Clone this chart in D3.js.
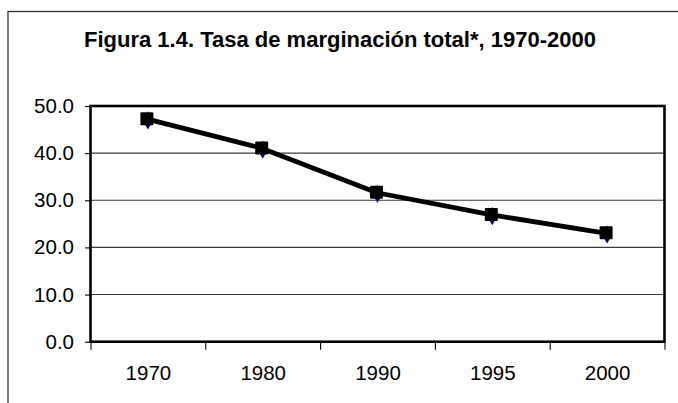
<!DOCTYPE html>
<html>
<head>
<meta charset="utf-8">
<script src="https://cdn.jsdelivr.net/npm/d3@7"></script>
<style>
  body { margin: 0; background: #fff; }
  svg { display: block; font-family: Arial, 'Liberation Sans', sans-serif; }
</style>
</head>
<body>
<div id="chart"></div>
<script>
// data
var title = 'Figura 1.4. Tasa de marginación total*, 1970-2000';
var years = ['1970', '1980', '1990', '1995', '2000'];
var tasa = [47.2, 41.0, 31.6, 26.9, 23.0];
var yTicks = [0, 10, 20, 30, 40, 50];

var attrs = {
  svgWidth: 678,
  svgHeight: 403,
  plotLeft: 91,
  plotRight: 665,
  plotTop: 106,
  plotBottom: 341.7
};

var svg = d3.select('#chart')
  .append('svg')
  .attr('width', attrs.svgWidth)
  .attr('height', attrs.svgHeight);

// outer frame (runs off the right and bottom edges)
svg.append('rect')
  .attr('x', 8)
  .attr('y', 11.5)
  .attr('width', 720)
  .attr('height', 430)
  .attr('fill', '#fff')
  .attr('stroke', '#333')
  .attr('stroke-width', 1.3);

svg.append('text')
  .attr('x', 340)
  .attr('y', 46.7)
  .attr('text-anchor', 'middle')
  .attr('font-size', 22)
  .attr('font-weight', 'bold')
  .attr('fill', '#000')
  .text(title);

// scales
var x = d3.scaleBand()
  .domain(years)
  .range([attrs.plotLeft, attrs.plotRight]);

var y = d3.scaleLinear()
  .domain([0, 50])
  .range([attrs.plotBottom, attrs.plotTop]);

var chart = svg.append('g');

// gridlines
chart.append('g')
  .selectAll('line')
  .data(yTicks.filter(d => d > 0 && d < 50))
  .enter()
  .append('line')
  .attr('x1', attrs.plotLeft)
  .attr('x2', attrs.plotRight)
  .attr('y1', d => y(d))
  .attr('y2', d => y(d))
  .attr('stroke', '#3a3a3a')
  .attr('stroke-width', 1.1);

// y axis
var yAxis = chart.append('g')
  .attr('transform', 'translate(' + attrs.plotLeft + ',0)')
  .call(d3.axisLeft(y).tickValues(yTicks).tickFormat(d3.format('.1f')).tickSize(6).tickPadding(11));

yAxis.select('.domain').remove();
yAxis.selectAll('.tick line').attr('stroke', '#000').attr('stroke-width', 1.1);
yAxis.selectAll('text')
  .attr('font-size', 20.5)
  .attr('font-family', 'Arial, Liberation Sans, sans-serif')
  .attr('fill', '#000');

// x axis: labels at band centres, ticks at band edges
var xAxis = chart.append('g')
  .attr('transform', 'translate(0,' + attrs.plotBottom + ')')
  .call(d3.axisBottom(x).tickSize(0).tickPadding(23.5));

xAxis.select('.domain').remove();
xAxis.selectAll('text')
  .attr('font-size', 20.5)
  .attr('font-family', 'Arial, Liberation Sans, sans-serif')
  .attr('fill', '#000');

var edges = years.map(d => x(d)).concat([x(years[years.length - 1]) + x.bandwidth()]);
chart.append('g')
  .selectAll('line')
  .data(edges)
  .enter()
  .append('line')
  .attr('x1', d => d)
  .attr('x2', d => d)
  .attr('y1', attrs.plotBottom)
  .attr('y2', attrs.plotBottom + 8)
  .attr('stroke', '#000')
  .attr('stroke-width', 1.1);

// plot border
chart.append('rect')
  .attr('x', attrs.plotLeft - 0.5)
  .attr('y', attrs.plotTop)
  .attr('width', attrs.plotRight - attrs.plotLeft)
  .attr('height', attrs.plotBottom - attrs.plotTop)
  .attr('fill', 'none')
  .attr('stroke', '#000')
  .attr('stroke-width', 2.6);

// series
var points = years.map((d, i) => ({ year: d, value: tasa[i] }));
var cx = d => x(d.year) + x.bandwidth() / 2 - 1;

var line = d3.line()
  .x(cx)
  .y(d => y(d.value));

// underlying diamonds (navy)
chart.append('g')
  .selectAll('path')
  .data(points)
  .enter()
  .append('path')
  .attr('d', d3.symbol().type(d3.symbolDiamond).size(95))
  .attr('transform', d => 'translate(' + (cx(d) + 0.5) + ',' + (y(d.value) + 1.2) + ')')
  .attr('fill', '#000080');

chart.append('path')
  .datum(points)
  .attr('d', line)
  .attr('fill', 'none')
  .attr('stroke', '#000')
  .attr('stroke-width', 4.8)
  .attr('stroke-linejoin', 'round');

chart.append('g')
  .selectAll('rect')
  .data(points)
  .enter()
  .append('rect')
  .attr('x', d => cx(d) - 7)
  .attr('y', d => y(d.value) - 7)
  .attr('width', 13)
  .attr('height', 13)
  .attr('rx', 1)
  .attr('fill', '#000');
</script>
</body>
</html>
